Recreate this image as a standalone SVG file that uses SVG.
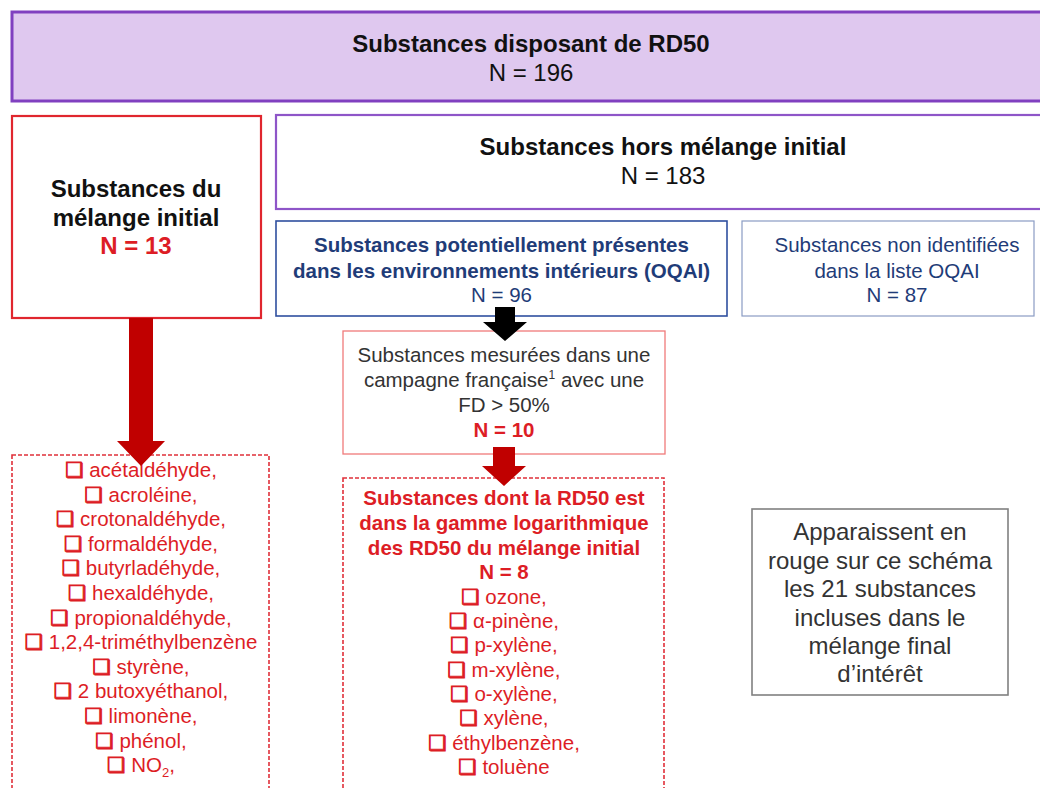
<svg xmlns="http://www.w3.org/2000/svg" width="1040" height="788" viewBox="0 0 1040 788">
<style>
text{font-family:"Liberation Sans",Arial,"DejaVu Sans",sans-serif;text-anchor:middle}
.b{font-weight:bold}
.t24{font-size:24px}
.t20{font-size:20.5px}
.blk{fill:#111}
.red{fill:#dd1d25}
.navy{fill:#1f3c78}
.gray{fill:#333}
.cb{stroke:#dd1d25;stroke-width:0.9}
.dash{fill:#fff;stroke:#e0303a;stroke-width:1.6;stroke-dasharray:4 2}
</style>
<rect width="1040" height="788" fill="#fff"/>
<g id="node-rd50">
<rect x="12" y="12" width="1040" height="89" fill="#dfc8ef" stroke="#8040c0" stroke-width="3"/>
<text x="531" y="52" class="t24 b blk">Substances disposant de RD50</text>
<text x="531" y="81" class="t24 blk">N = 196</text>
</g>
<g id="node-initial">
<rect x="12" y="116" width="249" height="202" fill="#fff" stroke="#e0262e" stroke-width="2.2"/>
<text x="136" y="197" class="t24 b blk">Substances du</text>
<text x="136" y="226" class="t24 b blk">mélange initial</text>
<text x="136" y="254" class="t24 b red">N = 13</text>
</g>
<g id="node-hors">
<rect x="276" y="115" width="780" height="94" fill="#fff" stroke="#8e55c8" stroke-width="2.2"/>
<text x="663" y="155" class="t24 b blk">Substances hors mélange initial</text>
<text x="663" y="184" class="t24 blk">N = 183</text>
</g>
<g id="node-oqai">
<rect x="276" y="221" width="451" height="95" fill="#fff" stroke="#2f4f9f" stroke-width="1.6"/>
<text x="501.5" y="252" class="t20 b navy">Substances potentiellement  présentes</text>
<text x="501.5" y="278" class="t20 b navy">dans les environnements intérieurs (OQAI)</text>
<text x="501.5" y="302" class="t20 navy">N = 96</text>
</g>
<g id="node-non-oqai">
<rect x="742" y="221" width="292" height="95" fill="#fff" stroke="#8a9cc4" stroke-width="1.2"/>
<text x="897" y="252" class="t20 navy">Substances non identifiées</text>
<text x="897" y="278" class="t20 navy">dans la liste OQAI</text>
<text x="897" y="302" class="t20 navy">N = 87</text>
</g>
<g id="node-mesurees">
<rect x="343" y="331" width="322" height="123" fill="#fff" stroke="#f07a7a" stroke-width="1.3"/>
<text x="504" y="362" class="t20 gray">Substances mesurées dans une</text>
<text x="504" y="387" class="t20 gray">campagne française<tspan font-size="12" dy="-8">1</tspan><tspan dy="8"> avec une</tspan></text>
<text x="504" y="412" class="t20 gray">FD &gt; 50%</text>
<text x="504" y="437" class="t20 b red">N = 10</text>
</g>
<g id="node-liste-initial">
<rect x="12" y="455" width="257" height="345" class="dash"/>
<g class="t20 red">
<text x="141" y="477"><tspan class="cb">❑</tspan> acétaldéhyde,</text>
<text x="141" y="501.6"><tspan class="cb">❑</tspan> acroléine,</text>
<text x="141" y="526.2"><tspan class="cb">❑</tspan> crotonaldéhyde,</text>
<text x="141" y="550.8"><tspan class="cb">❑</tspan> formaldéhyde,</text>
<text x="141" y="575.4"><tspan class="cb">❑</tspan> butyrladéhyde,</text>
<text x="141" y="600"><tspan class="cb">❑</tspan> hexaldéhyde,</text>
<text x="141" y="624.6"><tspan class="cb">❑</tspan> propionaldéhyde,</text>
<text x="141" y="649.2"><tspan class="cb">❑</tspan> 1,2,4-triméthylbenzène</text>
<text x="141" y="673.8"><tspan class="cb">❑</tspan> styrène,</text>
<text x="141" y="698.4"><tspan class="cb">❑</tspan> 2 butoxyéthanol,</text>
<text x="141" y="723"><tspan class="cb">❑</tspan> limonène,</text>
<text x="141" y="747.6"><tspan class="cb">❑</tspan> phénol,</text>
<text x="141" y="772.2"><tspan class="cb">❑</tspan> NO<tspan font-size="13" dy="5">2</tspan><tspan dy="-5">,</tspan></text>
</g>
</g>
<g id="node-liste-rd50">
<rect x="343" y="478" width="321" height="320" class="dash"/>
<g class="t20 b red">
<text x="504" y="505">Substances dont la RD50 est</text>
<text x="504" y="530">dans la gamme logarithmique</text>
<text x="504" y="555">des RD50 du mélange initial</text>
<text x="504" y="579">N = 8</text>
</g>
<g class="t20 red">
<text x="504" y="603.5"><tspan class="cb">❑</tspan> ozone,</text>
<text x="504" y="628"><tspan class="cb">❑</tspan> α-pinène,</text>
<text x="504" y="652.3"><tspan class="cb">❑</tspan> p-xylène,</text>
<text x="504" y="676.6"><tspan class="cb">❑</tspan> m-xylène,</text>
<text x="504" y="700.9"><tspan class="cb">❑</tspan> o-xylène,</text>
<text x="504" y="725.2"><tspan class="cb">❑</tspan> xylène,</text>
<text x="504" y="749.5"><tspan class="cb">❑</tspan> éthylbenzène,</text>
<text x="504" y="773.8"><tspan class="cb">❑</tspan> toluène</text>
</g>
</g>
<g id="node-note">
<rect x="752" y="509" width="256" height="186" fill="#fff" stroke="#808080" stroke-width="1.6"/>
<g class="t24 gray">
<text x="880" y="540">Apparaissent en</text>
<text x="880" y="568.5">rouge sur ce schéma</text>
<text x="880" y="597">les 21 substances</text>
<text x="880" y="625.5">incluses dans le</text>
<text x="880" y="654">mélange final</text>
<text x="880" y="682">d’intérêt</text>
</g>
</g>
<g id="connectors">
<polygon points="129,318 153,318 153,441 165,441 141,466 117,441 129,441" fill="#c00000"/>
<polygon points="495,307 515,307 515,322 527,322 505,341 483,322 495,322" fill="#000"/>
<polygon points="493,447 515,447 515,466 526,466 504,486 482,466 493,466" fill="#c00000"/>
</g>
</svg>
